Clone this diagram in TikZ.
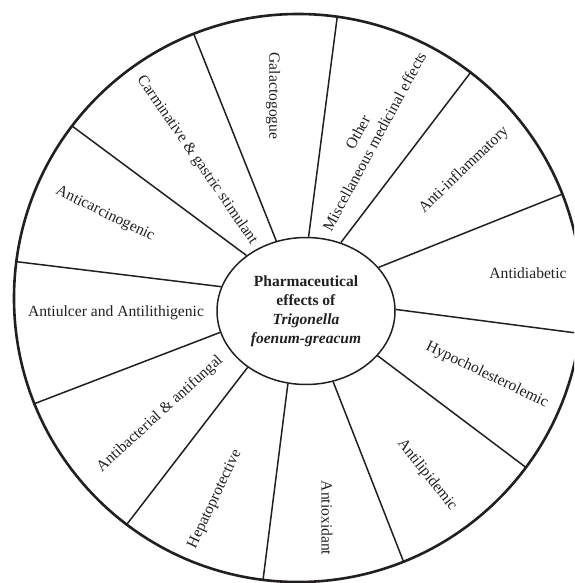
\documentclass[tikz,border=0pt]{standalone}
\usepackage{fontspec}
\setmainfont{Liberation Serif}
\usetikzlibrary{shapes.geometric}
\definecolor{inkc}{HTML}{231F20}
\begin{document}
\begin{tikzpicture}[x=1pt,y=-1pt,
  spoke/.style={draw=inkc, line width=1.5pt},
  rim/.style={draw=inkc, line width=2.6pt},
  hub/.style={ellipse, draw=inkc, line width=1.5pt, minimum width=178pt, minimum height=147pt, inner sep=0pt, align=center, text=inkc, font=\fontsize{15.5}{19}\selectfont},
  lbl/.style={text=inkc, font=\fontsize{15.6}{19}\selectfont, inner sep=0pt}]
\useasboundingbox (0,0) rectangle (574,583);
\clip (0,0) rectangle (574,583);
\node[hub] (c) at (306,311) {\textbf{Pharmaceutical}\\\textbf{effects of}\\\textbf{\textit{Trigonella}}\\\textbf{\textit{foenum-greacum}}};
% outer ends of spokes (slightly beyond the rim, clipped)
\coordinate (o1) at (191,27);
\coordinate (o2) at (338,11);
\coordinate (o3) at (474,68);
\coordinate (o4) at (570,191);
\coordinate (o5) at (584,334);
\coordinate (o6) at (532,472);
\coordinate (o7) at (406,568);
\coordinate (o8) at (262,588);
\coordinate (o9) at (124,528);
\coordinate (o10) at (31,405);
\coordinate (o11) at (11,261);
\coordinate (o12) at (68,123);
\begin{scope}
\clip (298,298) circle[radius=284pt];
\draw[spoke] (c.113.2) -- (o1);
\draw[spoke] (c.88.4) -- (o2);
\draw[spoke] (c.63.8) -- (o3);
\draw[spoke] (c.31.1) -- (o4);
\draw[spoke] (c.1.5) -- (o5);
\draw[spoke] (c.-32.2) -- (o6);
\draw[spoke] (c.-69.4) -- (o7);
\draw[spoke] (c.-104) -- (o8);
\draw[spoke] (c.-136) -- (o9);
\draw[spoke] (c.-166.6) -- (o10);
\draw[spoke] (c.164.4) -- (o11);
\draw[spoke] (c.137.5) -- (o12);
\end{scope}
\draw[rim] (298,298) circle[radius=284pt];
\node[lbl, rotate=-90] (galac) at (273,96) {Galactogogue};
\node[lbl, rotate=-55.4] (carm) at (197,160) {Carminative \& gastric stimulant};
\node[lbl, rotate=-25.6] (acarc) at (105,214) {Anticarcinogenic};
\node[lbl] (aulc) at (116,313) {Antiulcer and Antilithigenic};
\node[lbl, rotate=42.4] (abac) at (160,414) {Antibacterial \& antifungal};
\node[lbl, rotate=64.9] (hep) at (215,499) {Hepatoprotective};
\node[lbl, rotate=-90] (aox) at (327,518) {Antioxidant};
\node[lbl, rotate=-51.8] (alip) at (427,475) {Antilipidemic};
\node[lbl, rotate=-25.5] (hypo) at (487,375) {Hypocholesterolemic};
\node[lbl] (adia) at (528,273) {Antidiabetic};
\node[lbl, rotate=44] (ainf) at (464,170) {Anti-inflammatory};
\node[lbl, rotate=61.6, align=center] (misc) at (366,137) {Other\\Miscellaneous medicinal effects};
\end{tikzpicture}
\end{document}
